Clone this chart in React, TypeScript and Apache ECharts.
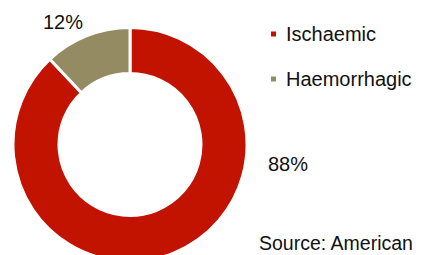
import React, { useEffect, useRef } from "react";
import * as echarts from "echarts";

const categories = ["Ischaemic", "Haemorrhagic"];
const values = [88, 12];
const colors = ["#C21200", "#948B62"];
const sourceText = "Source: American";

const FONT = "'Liberation Sans', Arial, sans-serif";

export default function App() {
  const ref = useRef<HTMLDivElement>(null);
  useEffect(() => {
    if (!ref.current) return;
    const chart = echarts.init(ref.current, null, { renderer: "svg" });
    const labelPos = [
      [288, 164],
      [63, 22],
    ];
    chart.setOption({
      animation: false,
      backgroundColor: "#ffffff",
      legend: {
        orient: "vertical",
        left: 269,
        top: 24,
        padding: 0,
        itemWidth: 7,
        itemHeight: 7,
        itemGap: 25,
        icon: "rect",
        data: categories,
        textStyle: {
          fontFamily: FONT,
          fontSize: 20,
          lineHeight: 20,
          color: "#111",
          padding: [0, 0, 0, 4],
        },
      },
      graphic: [
        {
          type: "text",
          left: 259,
          top: 233,
          style: {
            text: sourceText,
            font: `19.5px ${FONT}`,
            lineHeight: 18,
            fill: "#111",
          },
        },
      ],
      series: [
        {
          type: "pie",
          center: [130, 144.5],
          radius: [71, 117],
          startAngle: 90,
          clockwise: true,
          itemStyle: { borderColor: "#ffffff", borderWidth: 3 },
          label: {
            show: true,
            formatter: "{d}%",
            fontFamily: FONT,
            fontSize: 20,
            color: "#111",
            overflow: "none",
            width: 60,
          },
          labelLine: { show: false },
          labelLayout: (params: any) => ({
            x: labelPos[params.dataIndex][0],
            y: labelPos[params.dataIndex][1],
            align: "center",
            verticalAlign: "middle",
          }),
          emphasis: { disabled: true },
          data: categories.map((c, i) => ({
            name: c,
            value: values[i],
            itemStyle: { color: colors[i] },
          })),
        },
      ],
    });
    return () => chart.dispose();
  }, []);
  return (
    <div
      ref={ref}
      style={{ position: "fixed", left: 0, top: 0, width: 422, height: 255 }}
    />
  );
}
